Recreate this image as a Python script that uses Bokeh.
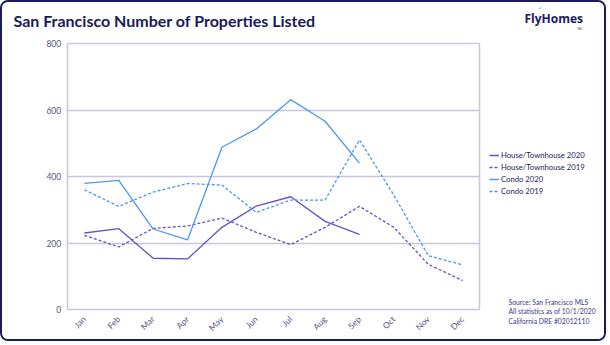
from bokeh.plotting import figure
from bokeh.models import Label, Legend, LegendItem, FixedTicker, Range1d
from bokeh.embed import file_html
from bokeh.resources import INLINE
from math import pi

months = ["Jan", "Feb", "Mar", "Apr", "May", "Jun", "Jul", "Aug", "Sep", "Oct", "Nov", "Dec"]
house_2020 = [231, 244, 155, 153, 248, 312, 340, 266, 227]
house_2019 = [224, 189, 245, 252, 276, 233, 196, 248, 311, 248, 137, 88]
condo_2020 = [380, 389, 243, 210, 489, 544, 632, 567, 441]
condo_2019 = [361, 311, 354, 380, 375, 293, 330, 330, 511, 345, 163, 135]
y_ticks = [0, 200, 400, 600, 800]
source_lines = ["Source: San Francisco MLS", "All statistics as of 10/1/2020",
                "California DRE #02012110"]

HOUSE = "#6a4fcb"
CONDO = "#4a97ee"
NAVY = "#1b1a5c"
GRID = "#c9c5e0"
TICK = "#56557f"
FONT = "Lato"

# canvas (inside a 2px css border) and plot-area box in canvas pixels
W, H = 606, 341
L, R, T, B = 64.7, 477.3, 41.3, 307.3
ymin, ymax = 0, 800
n = len(months)
ux = (R - L) / n
uy = (B - T) / (ymax - ymin)
x_range = Range1d(-0.5 - L / ux, n - 0.5 + (W - R) / ux)
y_range = Range1d(ymin - (H - B) / uy, ymax + T / uy)

p = figure(width=W, height=H, x_range=x_range, y_range=y_range,
           output_backend="svg", toolbar_location=None,
           min_border=0,
           styles={"border": "2px solid " + NAVY, "border-radius": "8px", "overflow": "hidden"})
p.title.visible = False
p.background_fill_color = "white"
p.border_fill_color = "white"
p.outline_line_color = None

xs = list(range(n))
p.xaxis.fixed_location = ymin
p.xaxis.bounds = (-0.5, n - 0.5)
p.xaxis.ticker = FixedTicker(ticks=xs)
p.xaxis.major_label_overrides = {i: m for i, m in enumerate(months)}
p.xaxis.major_label_orientation = pi / 4
p.xaxis.major_label_standoff = 8

p.yaxis.fixed_location = -0.5
p.yaxis.bounds = (ymin, ymax)
p.yaxis.ticker = FixedTicker(ticks=y_ticks)
p.yaxis.major_label_standoff = 6

for ax in (p.xaxis, p.yaxis):
    ax.axis_line_color = GRID
    ax.axis_line_width = 1.5
    ax.major_tick_line_color = None
    ax.minor_tick_line_color = None
    ax.major_tick_out = 0
    ax.major_tick_in = 0
    ax.major_label_text_color = TICK
    ax.major_label_text_font = FONT
    ax.major_label_text_font_size = "8.5px"

p.ygrid.ticker = FixedTicker(ticks=y_ticks[1:])
p.ygrid.grid_line_color = GRID
p.ygrid.grid_line_width = 1.5
p.ygrid.bounds = (ymin, ymax)
p.ygrid.cross_bounds = (-0.5, n - 0.5)
p.xgrid.ticker = FixedTicker(ticks=[n - 0.5])
p.xgrid.bounds = (-1, n)
p.xgrid.cross_bounds = (ymin, ymax)
p.xgrid.grid_line_color = GRID
p.xgrid.grid_line_width = 1.5

r1 = p.line(xs[:len(house_2020)], house_2020, line_color=HOUSE, line_width=1.3)
r2 = p.line(xs[:len(house_2019)], house_2019, line_color=HOUSE, line_width=1.3, line_dash="3 2")
r3 = p.line(xs[:len(condo_2020)], condo_2020, line_color=CONDO, line_width=1.3)
r4 = p.line(xs[:len(condo_2019)], condo_2019, line_color=CONDO, line_width=1.3, line_dash="3 2")

legend = Legend(items=[
    LegendItem(label="House/Townhouse 2020", renderers=[r1]),
    LegendItem(label="House/Townhouse 2019", renderers=[r2]),
    LegendItem(label="Condo 2020", renderers=[r3]),
    LegendItem(label="Condo 2019", renderers=[r4]),
], location=(487, 146.5), padding=0, margin=0, spacing=0,
   label_height=12, glyph_height=12, glyph_width=10, label_standoff=2,
   label_text_font=FONT, label_text_font_size="7.7px", label_text_color=NAVY,
   border_line_color=None, background_fill_alpha=0)
p.add_layout(legend, "center")

p.add_layout(Label(x=11, y=H - 18, x_units="screen", y_units="screen",
                   text="San Francisco Number of Properties Listed",
                   text_font=FONT, text_font_style="bold", text_font_size="16px",
                   text_color=NAVY, text_baseline="alphabetic"))
p.add_layout(Label(x=522, y=H - 16, x_units="screen", y_units="screen",
                   text="FlyHomes", text_font="Open Sans", text_font_style="bold",
                   text_font_size="12px", text_color=NAVY, text_baseline="alphabetic"))
p.add_layout(Label(x=536, y=H - 8, x_units="screen", y_units="screen",
                   text="\u02ca", text_font="Open Sans", text_font_style="bold",
                   text_font_size="10px", text_color=CONDO, text_baseline="alphabetic"))
p.add_layout(Label(x=575, y=H - 26, x_units="screen", y_units="screen",
                   text="INC", text_font="Open Sans", text_font_size="3px",
                   text_color=NAVY, text_baseline="alphabetic"))

for i, t in enumerate(source_lines):
    p.add_layout(Label(x=506, y=H - 299 - 9.8 * i, x_units="screen", y_units="screen",
                       text=t, text_font=FONT, text_font_size="6.8px",
                       text_color="#3a3a86", text_baseline="alphabetic"))

open("out.html", "w").write(file_html(p, INLINE))
